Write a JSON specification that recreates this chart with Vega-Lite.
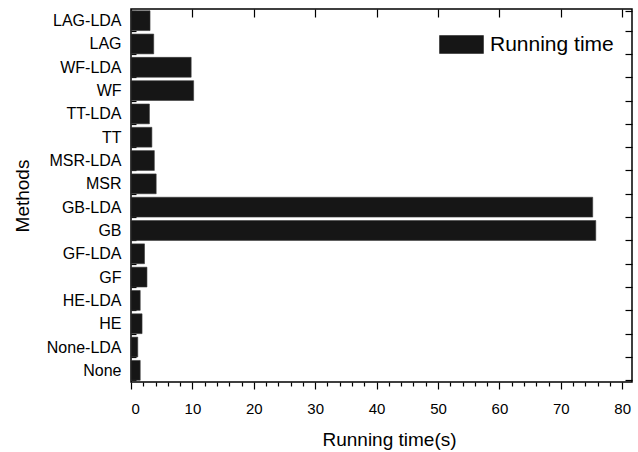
{
  "$schema": "https://vega.github.io/schema/vega-lite/v6.json",
  "width": 501,
  "height": 373,
  "autosize": {"type": "none"},
  "padding": {"left": 131, "top": 9, "right": 6, "bottom": 70},
  "background": "white",
  "config": {
    "font": "Liberation Sans",
    "view": {"stroke": "#000000", "strokeWidth": 1.5},
    "axis": {"grid": false, "domain": false, "tickColor": "#000000", "tickWidth": 1.2, "labelColor": "#000000", "titleColor": "#000000", "labelFont": "Liberation Sans", "titleFont": "Liberation Sans", "titleFontWeight": "normal"},
    "legend": {"labelFont": "Liberation Sans"}
  },
  "data": {"values": [
    {"method": "LAG-LDA", "time": 3.1, "series": "Running time"},
    {"method": "LAG", "time": 3.7, "series": "Running time"},
    {"method": "WF-LDA", "time": 9.8, "series": "Running time"},
    {"method": "WF", "time": 10.2, "series": "Running time"},
    {"method": "TT-LDA", "time": 3.0, "series": "Running time"},
    {"method": "TT", "time": 3.4, "series": "Running time"},
    {"method": "MSR-LDA", "time": 3.8, "series": "Running time"},
    {"method": "MSR", "time": 4.1, "series": "Running time"},
    {"method": "GB-LDA", "time": 75.2, "series": "Running time"},
    {"method": "GB", "time": 75.7, "series": "Running time"},
    {"method": "GF-LDA", "time": 2.2, "series": "Running time"},
    {"method": "GF", "time": 2.6, "series": "Running time"},
    {"method": "HE-LDA", "time": 1.5, "series": "Running time"},
    {"method": "HE", "time": 1.8, "series": "Running time"},
    {"method": "None-LDA", "time": 1.1, "series": "Running time"},
    {"method": "None", "time": 1.5, "series": "Running time"}
  ]},
  "resolve": {"axis": {"x": "independent", "y": "independent"}},
  "layer": [
    {
      "mark": {"type": "bar", "stroke": "#3a3a3a", "strokeWidth": 0.6},
      "encoding": {
        "y": {"field": "method", "type": "nominal", "sort": null,
          "scale": {"paddingInner": 0.15, "paddingOuter": 0.075},
          "axis": {"orient": "left", "tickBand": "extent", "tickSize": -5, "labelPadding": 15, "labelFontSize": 16, "title": "Methods", "titleFontSize": 19, "titleX": -103, "titleY": 186.5, "titleBaseline": "alphabetic"}},
        "x": {"field": "time", "type": "quantitative",
          "scale": {"domain": [0, 81.6], "nice": false, "zero": true},
          "axis": {"orient": "bottom", "values": [0, 2, 4, 6, 8, 10, 12, 14, 16, 18, 20, 22, 24, 26, 28, 30, 32, 34, 36, 38, 40, 42, 44, 46, 48, 50, 52, 54, 56, 58, 60, 62, 64, 66, 68, 70, 72, 74, 76, 78, 80],
            "tickSize": {"condition": {"test": "datum.value % 10 === 0", "value": 7}, "value": 4},
            "labelExpr": "datum.value % 10 === 0 ? datum.label : ''",
            "labelPadding": 12, "labelFontSize": 15, "title": "Running time(s)", "titleFontSize": 19, "titleX": 258, "titleY": 63, "titleBaseline": "alphabetic"}},
        "color": {"field": "series", "type": "nominal",
          "scale": {"range": ["#161616"]},
          "legend": {"title": null, "orient": "none", "legendX": 308, "legendY": 13, "padding": 0, "symbolType": "M-1,-0.4H1V0.4H-1Z", "symbolSize": 1849, "symbolFillColor": "#161616", "symbolStrokeColor": "#161616", "symbolOpacity": 1, "labelFontSize": 21, "labelColor": "#000000", "labelOffset": 6}}
      }
    },
    {
      "mark": {"type": "bar", "opacity": 0},
      "encoding": {
        "y": {"field": "method", "type": "nominal", "sort": null,
          "axis": {"orient": "right", "tickBand": "extent", "tickSize": -7, "labels": false, "title": null}},
        "x": {"field": "time", "type": "quantitative",
          "axis": {"orient": "top", "values": [0, 10, 20, 30, 40, 50, 60, 70, 80],
            "tickSize": -8,
            "labels": false, "title": null}}
      }
    }
  ]
}
